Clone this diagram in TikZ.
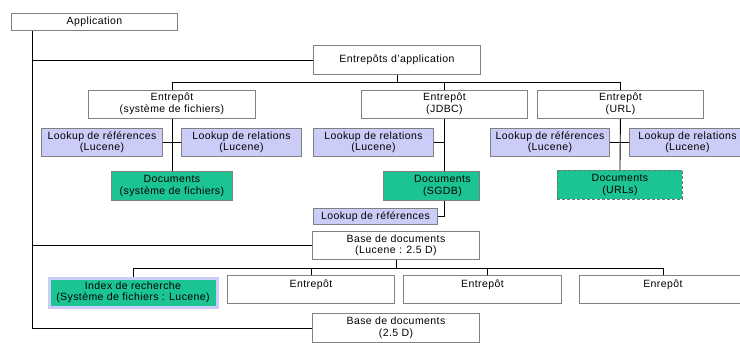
\documentclass[tikz,border=0pt]{standalone}
\usepackage{fontspec}
\setmainfont{Liberation Sans}[LetterSpace=4]
\usetikzlibrary{backgrounds}
\definecolor{gborder}{HTML}{808080}
\definecolor{docgreen}{HTML}{1CC493}
\definecolor{lav}{HTML}{CCCCF8}
\tikzset{
  box/.style={draw=gborder, line width=0.9pt, fill=white, anchor=north west, inner sep=0pt,
    align=center, font=\fontsize{10.5}{11.5}\selectfont},
  lookbox/.style={box, fill=lav},
  docbox/.style={box, fill=docgreen},
  conn/.style={draw=black, line width=0.9pt},
}
\begin{document}
\begin{tikzpicture}[x=1pt,y=-1pt]
\clip (0,0) rectangle (740,343);
% top level
\node[box, minimum width=166, minimum height=17] (app) at (11,13) {Application};
\node[box, minimum width=167, minimum height=29] (eapp) at (313,45) {Entrepôts d'application};
\node[box, minimum width=167, minimum height=28] (efs) at (88,89.5) {Entrepôt\\(système de fichiers)};
\node[box, minimum width=166, minimum height=28] (ejdbc) at (361,89.5) {Entrepôt\\(JDBC)};
\node[box, minimum width=166, minimum height=28] (eurl) at (537,89.5) {Entrepôt\\(URL)};
% file system column
\node[lookbox, minimum width=121, minimum height=28] (lr1) at (41,128) {Lookup de références\\(Lucene)};
\node[lookbox, minimum width=120, minimum height=28] (lrel1) at (181,128) {Lookup de relations\\(Lucene)};
\node[docbox, minimum width=121, minimum height=29] (doc1) at (111,171) {Documents\\(système de fichiers)};
% JDBC column
\node[lookbox, minimum width=120, minimum height=28] (lrel2) at (313,128) {Lookup de relations\\(Lucene)};
\node[docbox, minimum width=96, minimum height=29] (doc2) at (383,171) {\hspace*{22pt}Documents\\\hspace*{22pt}(SGDB)};
\node[lookbox, minimum width=124, minimum height=16] (lr2) at (313,208) {Lookup de références};
% URL column
\node[lookbox, minimum width=119, minimum height=28] (lr3) at (490,128) {Lookup de références\\(Lucene)};
\node[lookbox, minimum width=116, minimum height=28] (lrel3) at (629,128) {Lookup de relations\\(Lucene)};
\node[docbox, draw=gborder!90!black, dashed, dash pattern=on 3pt off 2pt, minimum width=125, minimum height=29] (doc3) at (557,170) {Documents\\(URLs)};
% document bases
\node[box, minimum width=167, minimum height=28] (base1) at (312,231) {Base de documents\\(Lucene : 2.5 D)};
\node[docbox, draw=lav, line width=3pt, minimum width=168, minimum height=29] (idx) at (47.5,276.5) {Index de recherche\\(Système de fichiers : Lucene)};
\node[box, minimum width=167, minimum height=28] (e1) at (227,275) {Entrepôt\\~};
\node[box, minimum width=158, minimum height=28] (e2) at (403,275) {Entrepôt\\~};
\node[box, minimum width=167, minimum height=28] (e3) at (579,275) {Enrepôt\\~};
\node[box, minimum width=167, minimum height=29] (base2) at (312,313) {Base de documents\\(2.5 D)};
% connectors
\coordinate (trunk) at (32,30);
\coordinate (bus) at (0,82);
\coordinate (bus2) at (0,268);
\begin{scope}[on background layer]
\fill[white] (0,0) rectangle (740,343);
\draw[conn] (trunk) |- (base2.west);
\draw[conn] (trunk |- eapp.west) -- (eapp.west);
\draw[conn] (trunk |- base1.west) -- (base1.west);
\draw[conn] (eapp.south) -- (eapp.south |- bus);
\draw[conn] (efs.north) |- (eurl.north |- bus) -- (eurl.north);
\draw[conn] (ejdbc.north) -- (ejdbc.north |- bus);
\draw[conn] (efs.south) -- (doc1.north);
\draw[conn] (lr1.east) -- (lrel1.west);
\draw[conn] (ejdbc.south) |- (lr2.east);
\draw[conn] (lrel2.east) -- (lrel2.east -| ejdbc.south);
\draw[conn] (eurl.south) -- (doc3.north);
\draw[conn] (lr3.east) -- (lrel3.west);
\draw[conn] (base1.south) -- (base1.south |- bus2);
\draw[conn] (idx.north) |- (e3.north |- bus2) -- (e3.north);
\draw[conn] (e1.north) -- (e1.north |- bus2);
\draw[conn] ([xshift=5pt]e2.north) -- ([xshift=5pt]e2.north |- bus2);
\end{scope}
\end{tikzpicture}
\end{document}
